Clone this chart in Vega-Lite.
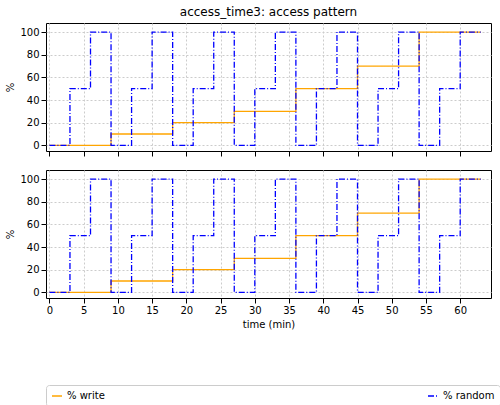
{
"$schema":"https://vega.github.io/schema/vega-lite/v6.json",
"config":{"font":"DejaVu Sans","view":{"stroke":"black"},"axis":{"grid":true,"gridDash":[2,2],"gridColor":"#ccc","domain":false,"tickColor":"black","labelColor":"black","labelFontSize":10,"titleFontWeight":"normal","titleFontSize":10},
"legend":{"orient":"bottom","direction":"horizontal","offset":55,"strokeColor":"#ccc","padding":5,"cornerRadius":3,"symbolType":"stroke","labelFontSize":10,"columnPadding":320,"title":null},"concat":{"spacing":12}},
"padding":{"left":5,"top":5,"right":5,"bottom":5},
"data":{"values":[
{"t":0,"s":"% write","v":0},{"t":3,"s":"% write","v":0},{"t":6,"s":"% write","v":0},{"t":9,"s":"% write","v":10},{"t":12,"s":"% write","v":10},{"t":15,"s":"% write","v":10},{"t":18,"s":"% write","v":20},{"t":21,"s":"% write","v":20},{"t":24,"s":"% write","v":20},{"t":27,"s":"% write","v":30},{"t":30,"s":"% write","v":30},{"t":33,"s":"% write","v":30},{"t":36,"s":"% write","v":50},{"t":39,"s":"% write","v":50},{"t":42,"s":"% write","v":50},{"t":45,"s":"% write","v":70},{"t":48,"s":"% write","v":70},{"t":51,"s":"% write","v":70},{"t":54,"s":"% write","v":100},{"t":57,"s":"% write","v":100},{"t":60,"s":"% write","v":100},{"t":63,"s":"% write","v":100},
{"t":0,"s":"% random","v":0},{"t":3,"s":"% random","v":50},{"t":6,"s":"% random","v":100},{"t":9,"s":"% random","v":0},{"t":12,"s":"% random","v":50},{"t":15,"s":"% random","v":100},{"t":18,"s":"% random","v":0},{"t":21,"s":"% random","v":50},{"t":24,"s":"% random","v":100},{"t":27,"s":"% random","v":0},{"t":30,"s":"% random","v":50},{"t":33,"s":"% random","v":100},{"t":36,"s":"% random","v":0},{"t":39,"s":"% random","v":50},{"t":42,"s":"% random","v":100},{"t":45,"s":"% random","v":0},{"t":48,"s":"% random","v":50},{"t":51,"s":"% random","v":100},{"t":54,"s":"% random","v":0},{"t":57,"s":"% random","v":50},{"t":60,"s":"% random","v":100},{"t":63,"s":"% random","v":100}
]},
"vconcat":[
{"width":445,"height":128,"title":{"text":"access_time3: access pattern","fontWeight":"normal","fontSize":12,"offset":4},
"mark":{"type":"line","interpolate":"step-after","strokeWidth":1.3},
"encoding":{"x":{"field":"t","type":"quantitative","scale":{"domain":[-0.5,64.5],"nice":false},"axis":{"values":[0,5,10,15,20,25,30,35,40,45,50,55,60],"labels":false,"title":null}},
"y":{"field":"v","type":"quantitative","scale":{"domain":[-5,108],"nice":false},"axis":{"values":[0,20,40,60,80,100],"title":"%"}},
"color":{"field":"s","type":"nominal","scale":{"domain":["% write","% random"],"range":["orange","blue"]}},
"strokeDash":{"field":"s","type":"nominal","scale":{"domain":["% write","% random"],"range":[[1,0],[6,2,1,2]]}}}},
{"width":445,"height":128,
"mark":{"type":"line","interpolate":"step-after","strokeWidth":1.3},
"encoding":{"x":{"field":"t","type":"quantitative","scale":{"domain":[-0.5,64.5],"nice":false},"axis":{"values":[0,5,10,15,20,25,30,35,40,45,50,55,60],"title":"time (min)"}},
"y":{"field":"v","type":"quantitative","scale":{"domain":[-5,108],"nice":false},"axis":{"values":[0,20,40,60,80,100],"title":"%"}},
"color":{"field":"s","type":"nominal","scale":{"domain":["% write","% random"],"range":["orange","blue"]}},
"strokeDash":{"field":"s","type":"nominal","scale":{"domain":["% write","% random"],"range":[[1,0],[6,2,1,2]]}}}}
]}
